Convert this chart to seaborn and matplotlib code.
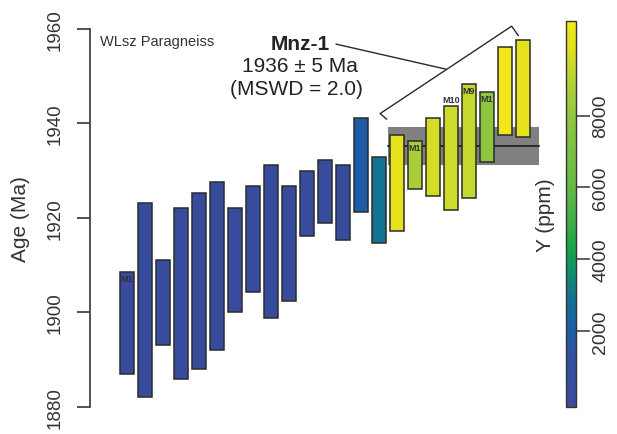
import numpy as np
import pandas as pd
import matplotlib
matplotlib.use("Agg")
import matplotlib.pyplot as plt
import seaborn as sns
from matplotlib.colors import LinearSegmentedColormap, Normalize
from matplotlib.cm import ScalarMappable

# monazite spot ages (Ma), top and bottom of each 2s box, left to right
age_top = [1908.5, 1923.1, 1911.1, 1922.2, 1925.3, 1927.6, 1922.2, 1926.7, 1931.2, 1926.7,
           1930.0, 1932.2, 1931.3, 1941.2, 1932.9, 1937.5, 1936.3, 1941.2, 1943.6, 1948.3,
           1946.7, 1956.2, 1957.7]
age_bot = [1886.9, 1882.2, 1893.1, 1886.0, 1888.1, 1892.1, 1900.1, 1904.3, 1898.9, 1902.4,
           1916.2, 1918.9, 1915.4, 1921.3, 1914.7, 1917.2, 1926.1, 1924.7, 1921.7, 1924.2,
           1931.8, 1937.5, 1937.1]
# Y content of each spot (ppm)
y_ppm = [400, 400, 450, 400, 400, 450, 400, 400, 400, 450,
         400, 450, 450, 1900, 2900, 10000, 8700, 9600, 9500, 9300,
         7800, 10500, 10000]
spot_labels = ["M1", "", "", "", "", "", "", "", "", "",
               "", "", "", "", "", "", "M1", "", "M10", "M9",
               "M1", "", ""]

# weighted mean of the young population
mean_age = 1935.3
mean_lo = 1931.3
mean_hi = 1939.3

cbar_ticks = [2000, 4000, 6000, 8000]
y_min, y_max = -130, 10650

sns.set_style("white")
plt.rcParams["font.family"] = ["Liberation Sans", "DejaVu Sans"]

cmap = LinearSegmentedColormap.from_list("ycont", [
    (0.0, "#3b4a9c"), (0.123, "#3350a2"), (0.198, "#1c5ea9"), (0.281, "#137290"),
    (0.346, "#0f9070"), (0.402, "#14a24a"), (0.494, "#44b048"), (0.569, "#66b846"),
    (0.736, "#8cc63f"), (0.819, "#a8cf3a"), (0.893, "#cddb2a"), (0.94, "#e5e21c"),
    (1.0, "#f5e817")])
norm = Normalize(vmin=y_min, vmax=y_max)

df = pd.DataFrame({
    "spot": np.arange(len(age_top)),
    "height": np.array(age_top) - np.array(age_bot),
    "bottom": age_bot,
    "y": y_ppm,
})

fig = plt.figure(figsize=(6.17, 4.35), dpi=100)
ax = fig.add_axes([90 / 617, 1 - 408 / 435, 451 / 617, 378 / 435])

# mean band + line behind the boxes
ax.fill_between([14.5, 22.9], mean_lo, mean_hi, color="#808080", lw=0, zorder=1)
ax.plot([14.5, 22.9], [mean_age, mean_age], color="#2a2a2a", lw=1.4, zorder=2)

sns.barplot(data=df, x="spot", y="height", bottom=df["bottom"].values, width=0.8,
            color="#3a52a3", errorbar=None, edgecolor="#2b2b2b", linewidth=1.1,
            ax=ax, zorder=3)
for patch, val in zip(ax.patches, df["y"]):
    patch.set_facecolor(cmap(norm(val)))

for i, lab in enumerate(spot_labels):
    if not lab:
        continue
    if lab == "M10":
        ax.annotate(lab, (i, age_top[i]), xytext=(0, 1.5), textcoords="offset points",
                    ha="center", va="bottom", fontsize=6.5, fontweight="bold", color="#333333", zorder=5)
    else:
        ax.annotate(lab, (i, age_top[i]), xytext=(0, -1.2), textcoords="offset points",
                    ha="center", va="top", fontsize=6.5, fontweight="bold", color="#333333", zorder=5)

ax.set_xlim(-2.06, 23.0)
ax.set_ylim(1880, 1960)
ax.set_xticks([])
ax.set_xlabel("")
ax.set_yticks([1880, 1900, 1920, 1940, 1960])
for s in ["top", "right", "bottom"]:
    ax.spines[s].set_visible(False)
ax.spines["left"].set_color("#444444")
ax.spines["left"].set_linewidth(1.3)
ax.tick_params(axis="y", left=True, length=9.5, width=1.3, color="#444444",
               labelsize=13.5, labelcolor="#333333", pad=9.5, labelrotation=90)
for t in ax.get_yticklabels():
    t.set_va("center")
ax.set_ylabel("Age (Ma)", fontsize=15, color="#333333", va="center")
ax.yaxis.set_label_coords((20.5 - 90) / 451, 0.5)

# annotations
ax.text(-1.5, 1957.5, "WLsz Paragneiss", fontsize=10.5, color="#333333", ha="left", va="center")
ax.text(9.6, 1957.0, "Mnz-1", fontsize=15, fontweight="bold", color="#222222", ha="center", va="center")
ax.text(9.6, 1952.2, "1936 ± 5 Ma", fontsize=15, color="#222222", ha="center", va="center")
ax.text(9.4, 1947.5, "(MSWD = 2.0)", fontsize=15, color="#222222", ha="center", va="center")
ax.plot([14.43, 14.06, 21.37, 21.74], [1940.9, 1942.1, 1960.6, 1958.6],
        color="#2a2a2a", lw=1.0, clip_on=False, zorder=4)
ax.plot([11.61, 17.72], [1956.8, 1951.5], color="#2a2a2a", lw=1.0, clip_on=False, zorder=4)

# colour bar
cax = fig.add_axes([566 / 617, 1 - 408.3 / 435, 10 / 617, 386.6 / 435])
cbar = fig.colorbar(ScalarMappable(norm=norm, cmap=cmap), cax=cax)
cbar.set_ticks(cbar_ticks)
cbar.ax.minorticks_off()
cbar.outline.set_edgecolor("#333333")
cbar.outline.set_linewidth(1.0)
cbar.ax.tick_params(axis="y", right=True, left=False, length=10, width=1.2, color="#444444",
                    labelsize=14, labelcolor="#333333", pad=1.8, labelrotation=90)
for t in cbar.ax.get_yticklabels():
    t.set_va("center")
cbar.ax.yaxis.set_label_position("left")
cbar.set_label("Y (ppm)", fontsize=15, color="#333333", va="center")
cbar.ax.yaxis.set_label_coords((545.5 - 566) / 10, 0.5)

fig.savefig("out.png", dpi=100, facecolor="white")
